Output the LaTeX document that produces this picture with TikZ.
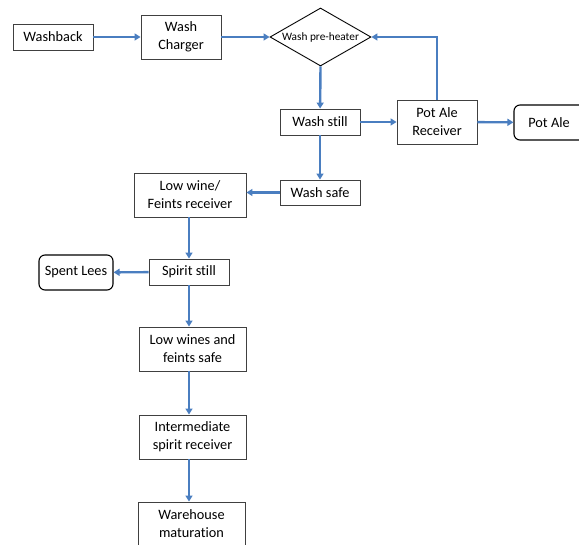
\documentclass[tikz,border=0pt]{standalone}
\usepackage{fontspec}
\setmainfont[Ligatures={NoCommon,NoRare,NoContextual},RawFeature={-liga;-clig;-dlig;-calt}]{Carlito}
\usetikzlibrary{shapes.geometric,arrows.meta}
\definecolor{flow}{HTML}{4A7EC0}
\definecolor{edge}{HTML}{404040}
\begin{document}
\begin{tikzpicture}[x=1pt,y=-1pt,
  box/.style={draw=edge,line width=0.9pt,fill=white,inner sep=0pt,align=center,font=\fontsize{14.3}{18}\selectfont},
  rbox/.style={box,draw=black,line width=1.1pt,rounded corners=6pt},
  flw/.style={draw=flow,line width=2.4pt,-{Triangle[length=6pt,width=7pt]}}]
\useasboundingbox (0,0) rectangle (579,545);
\node[box,minimum width=80pt,minimum height=26pt] (washback) at (53,37) {Washback};
\node[box,minimum width=80pt,minimum height=44pt] (charger) at (181,37) {Wash\\Charger};
\node[draw=black,line width=0.9pt,diamond,aspect=1.74,inner sep=0pt,minimum width=101pt,minimum height=58pt,font=\fontsize{11.3}{13}\selectfont] (heater) at (320.5,37) {Wash pre-heater};
\node[box,minimum width=80pt,minimum height=26pt] (still) at (320,122) {Wash still};
\node[box,minimum width=80pt,minimum height=44pt] (potrec) at (437,122) {Pot Ale\\Receiver};
\node[rbox,minimum width=80pt,minimum height=35pt] (potale) at (554,122.5) {\hspace*{4pt}Pot Ale\hspace*{14pt}};
\node[box,minimum width=80pt,minimum height=25pt] (safe) at (320,192.5) {Wash safe};
\node[box,minimum width=112pt,minimum height=44pt] (lowwine) at (190,195) {Low wine/\\Feints receiver};
\node[box,minimum width=80pt,minimum height=26pt] (spirit) at (189,272) {Spirit still};
\node[rbox,minimum width=74pt,minimum height=35pt] (lees) at (76,272.5) {Spent Lees};
\node[box,minimum width=107pt,minimum height=44pt] (lwsafe) at (192.5,349) {Low wines and\\feints safe};
\node[box,minimum width=107pt,minimum height=44pt] (isr) at (192.5,437) {Intermediate\\spirit receiver};
\node[box,minimum width=107pt,minimum height=44pt] (ware) at (191.5,524) {Warehouse\\maturation};
\draw[flw] (washback) -- (charger);
\draw[flw] (charger) -- (heater.west);
\draw[flw] (heater.south) -- (still);
\draw[flw] (still) -- (potrec);
\draw[flw] (potrec) -- (potale);
\draw[flw] (potrec.north) |- (heater.east);
\draw[flw] (still) -- (safe);
\draw[flw] (safe.west) -- (lowwine.east |- safe.west);
\draw[flw] (lowwine.south -| spirit.north) -- (spirit);
\draw[flw] (spirit) -- (lees);
\draw[flw] (spirit.south) -- (spirit.south |- lwsafe.north);
\draw[flw] (isr.north -| spirit.south) ++(0,-44) -- (isr.north -| spirit.south);
\draw[flw] (isr.south -| spirit.south) -- (ware.north -| spirit.south);
\end{tikzpicture}
\end{document}
